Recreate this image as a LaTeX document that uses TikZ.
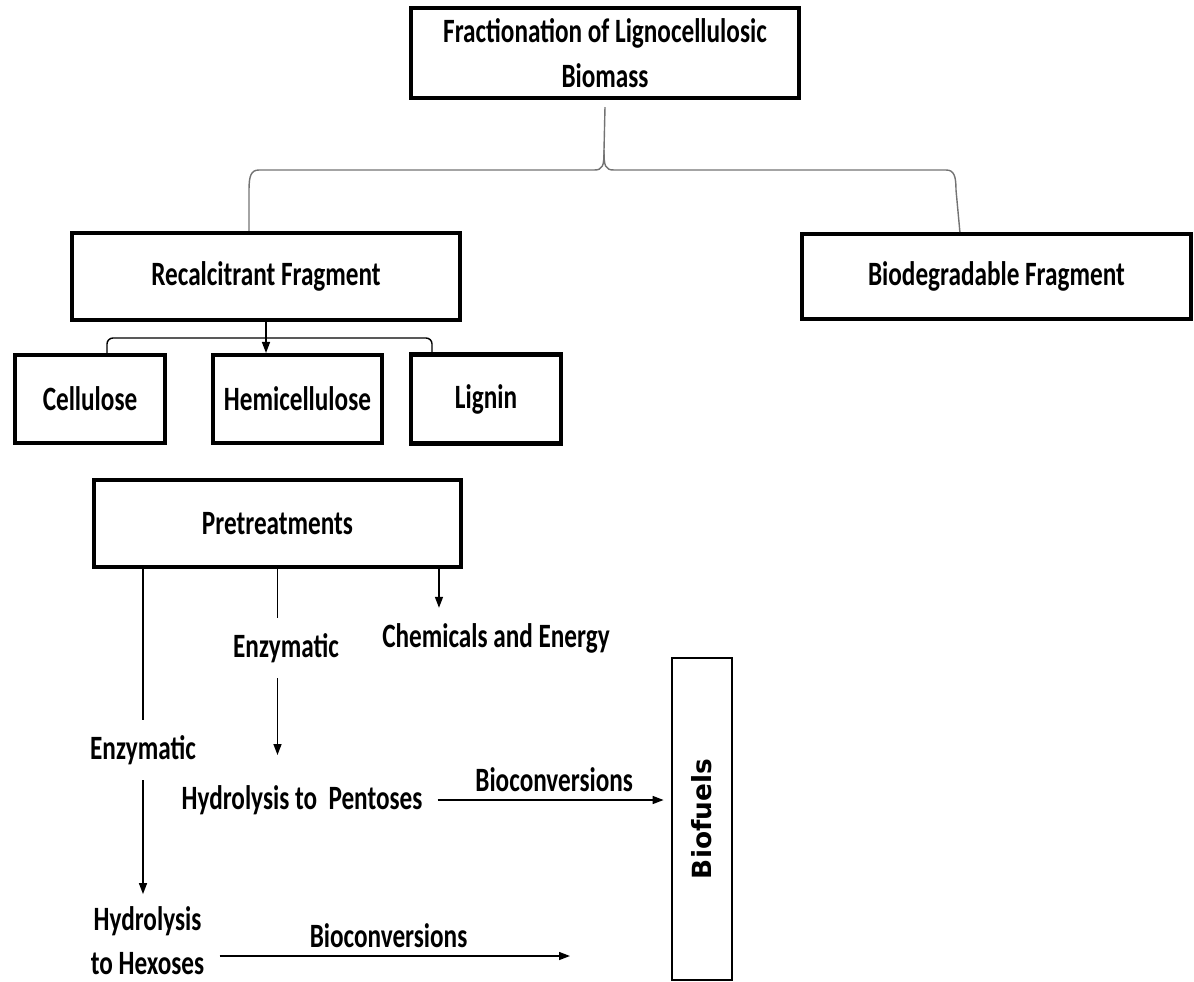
\documentclass[tikz,border=0pt]{standalone}
\usepackage{fontspec}
\newfontfamily\lblfont{Carlito Bold}[FakeStretch=0.74]
\newfontfamily\fuelfont{DejaVu Sans Bold}
\usetikzlibrary{arrows.meta}
\usetikzlibrary{positioning}
\tikzset{> = {Triangle[length=0.22cm, width=0.16cm]},
  box/.style = {draw, line width=2.3pt, inner sep=0, align=center, font=\lblfont\fontsize{19.4pt}{25.5pt}\selectfont},
  lbl/.style = {inner sep=0.3cm, align=center, font=\lblfont\fontsize{19.4pt}{25pt}\selectfont},
  link/.style = {line width=0.8pt},
  brace/.style = {line width=0.8pt, black!55}}

\begin{document}
\begin{tikzpicture}[x=0.02cm, y=-0.02cm]
    \useasboundingbox (0,0) rectangle (1194,981);
    % boxes
    \node [box, minimum width=7.76cm, minimum height=1.8cm] (top) at (605,53) {Fractionation of Lignocellulosic\\Biomass};
    \node [box, minimum width=7.76cm, minimum height=1.74cm] (recal) at (266,276.5) {Recalcitrant Fragment};
    \node [box, minimum width=7.78cm, minimum height=1.7cm, right=6.76cm of recal] (biodeg) {Biodegradable Fragment};
    \node [box, minimum width=3cm, minimum height=1.76cm] (cell) at (90,399) {Cellulose};
    \node [box, minimum width=3.38cm, minimum height=1.76cm, right=0.88cm of cell] (hemi) {Hemicellulose};
    \node [box, minimum width=3cm, minimum height=1.78cm, right=0.5cm of hemi] (lig) {Lignin};
    \node [box, minimum width=7.34cm, minimum height=1.74cm] (pre) at (277.5,523.5) {Pretreatments};
    \node [draw, line width=1.6pt, rotate=90, minimum width=6.44cm, minimum height=1.2cm, font=\fuelfont\fontsize{15pt}{18pt}\selectfont] (biof) at (702,819) {Biofuels};
    % labels
    \node [lbl] (enzL) at (143,750) {Enzymatic};
    \node [lbl] (enzM) at (286,648) {Enzymatic};
    \node [lbl] (chem) at (496,638) {Chemicals and Energy};
    \node [lbl] (hydP) at (302,800) {Hydrolysis to\ \ Pentoses};
    \node [lbl, inner sep=0.05cm] (hydH) at (147.5,941) {Hydrolysis\\to Hexoses};
    \coordinate (hexend) at (570,956);
    \coordinate (cusp) at (604,150);
    \coordinate (split) at (266,338);
    % brace
    \draw [brace] ([yshift=-0.14cm]top.south) -- (cusp) .. controls (604,166) and (603,170) .. (594,170) -- (259,170)
        .. controls (251,170) and (249,176) .. (249,190) -- ([xshift=-0.34cm]recal.north);
    \draw [brace] (cusp) .. controls (604,166) and (605,170) .. (614,170) -- (946,170)
        .. controls (954,170) and (956,176) .. (956,190) -- ([xshift=-0.73cm]biodeg.north);
    % fragments
    \draw [link, ->] (recal.south) -- (recal.south |- hemi.north);
    \draw [link, rounded corners=0.12cm] ([xshift=0.34cm]cell.north) |- (split) -| ([xshift=-1.08cm]lig.north);
    % pretreatments
    \draw [link] (pre.south -| enzL) -- (enzL.north);
    \draw [link, ->, shorten >=0.2cm] (enzL.south) -- (enzL.south |- hydH.north);
    \draw [link] (pre.south) -- (pre.south |- enzM.north);
    \draw [link, ->, shorten >=0.3cm] (pre.south |- enzM.south) -- (pre.south |- hydP.north);
    \draw [link, ->] ([xshift=-0.48cm]pre.south east) -- ([xshift=-0.48cm]pre.south east |- chem.north);
    % bioconversions
    \draw [link, ->, shorten >=0.14cm] (hydP.east) -- (hydP.east -| biof.north)
        node [midway, above, lbl, inner sep=0.15cm] {Bioconversions};
    \draw [link, ->, shorten <=0.25cm] (hydH.east |- hexend) -- (hexend)
        node [midway, above, lbl, inner sep=0.15cm] {Bioconversions};
\end{tikzpicture}
\end{document}
